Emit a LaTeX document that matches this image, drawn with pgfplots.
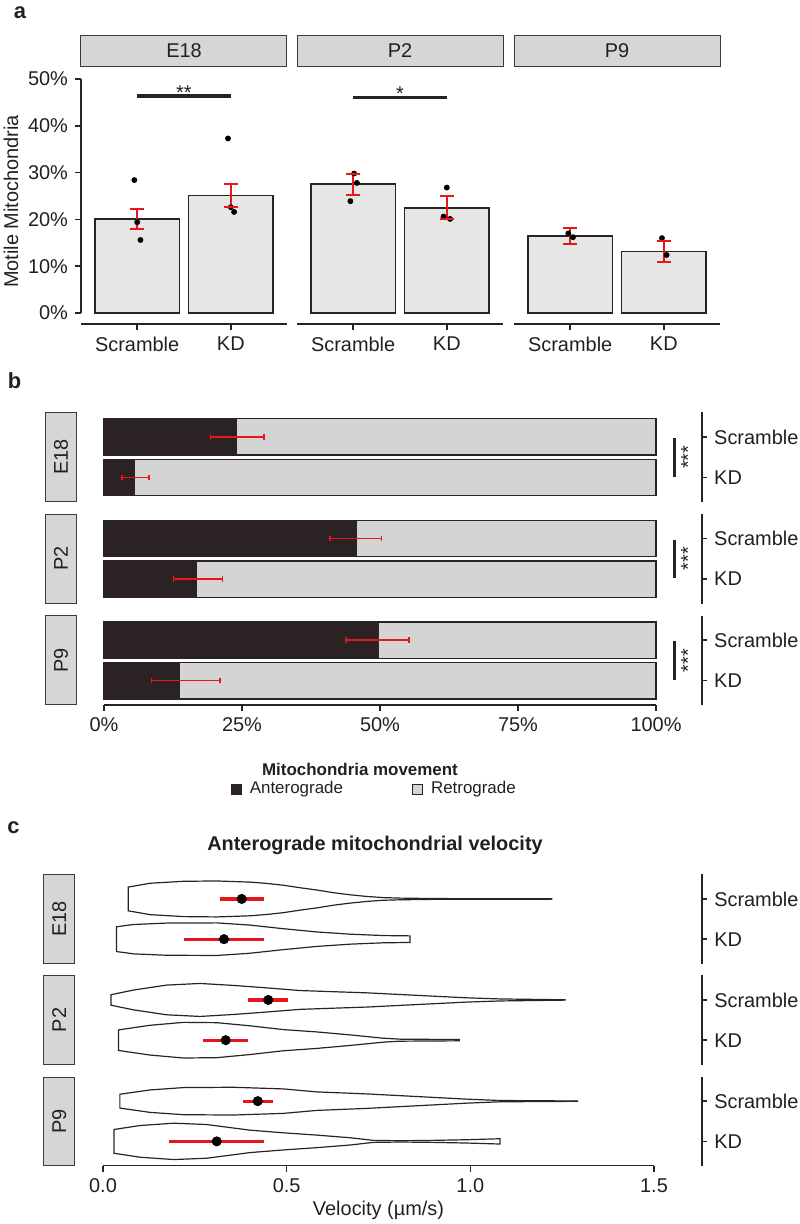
\documentclass[border=0pt]{standalone}
\usepackage{pgfplots}
\pgfplotsset{compat=1.18}
\usepackage{pgfplotstable}
\usepackage{graphicx}
\usepackage{fontspec}
\setmainfont{Liberation Sans}

\definecolor{dk}{HTML}{2B2323}
\definecolor{txt}{HTML}{231F20}
\definecolor{barl}{HTML}{E6E6E6}
\definecolor{ret}{HTML}{D4D4D4}
\definecolor{stripf}{HTML}{D6D6D6}
\definecolor{stripd}{HTML}{3A3A3A}
\definecolor{rd}{HTML}{E8141E}

\newcommand{\fs}{\fontsize{10}{12}\selectfont}

\tikzset{strip/.style={draw=stripd, fill=stripf, line width=0.5bp, inner sep=0pt, text=txt, font=\fs}}
\pgfplotsset{
  base/.style={scale only axis, clip=false, anchor=south west,
    font=\fs, ticklabel style={text=txt},
    axis line style={dk, line width=0.8bp},
    tick style={dk, line width=0.8bp}, major tick length=3bp},
  vio/.style={dk, line width=0.6bp, forget plot},
  ci/.style={rd, line width=1.65bp, forget plot},
  mn/.style={only marks, mark=*, mark size=2.3bp, black, forget plot},
  ebb/.style={rd, line width=0.8bp, mark=|, mark size=1.4bp, forget plot},
  eba/.style={rd, line width=1bp, mark=-, mark size=3.5bp},
}

% violin half-width profiles (velocity, half-width in category units)
\pgfplotstableread{
v h
0.069 0
0.069 0.296
0.128 0.39
0.219 0.439
0.310 0.447
0.400 0.419
0.446 0.386
0.491 0.341
0.536 0.279
0.582 0.222
0.627 0.156
0.673 0.103
0.718 0.062
0.763 0.033
0.809 0.021
0.899 0.010
0.990 0.007
1.222 0.005
1.222 0
}\vEs
\pgfplotstableread{
v h
0.037 0
0.037 0.308
0.083 0.365
0.173 0.400
0.310 0.405
0.400 0.350
0.491 0.260
0.582 0.180
0.673 0.124
0.763 0.090
0.836 0.082
0.836 0
}\vEk
\pgfplotstableread{
v h
0.022 0
0.022 0.131
0.083 0.246
0.173 0.369
0.264 0.410
0.355 0.361
0.446 0.300
0.536 0.234
0.627 0.205
0.718 0.177
0.809 0.135
0.899 0.094
0.990 0.053
1.081 0.025
1.258 0.004
1.258 0
}\vPs
\pgfplotstableread{
v h
0.042 0
0.042 0.255
0.128 0.370
0.219 0.443
0.310 0.435
0.400 0.357
0.491 0.263
0.582 0.205
0.673 0.131
0.763 0.049
0.809 0.025
0.970 0.016
0.970 0
}\vPk
\pgfplotstableread{
v h
0.046 0
0.046 0.172
0.128 0.279
0.219 0.337
0.355 0.345
0.491 0.304
0.582 0.230
0.718 0.180
0.854 0.115
0.990 0.050
1.081 0.016
1.292 0.004
1.292 0
}\vNs
\pgfplotstableread{
v h
0.030 0
0.030 0.296
0.101 0.394
0.192 0.452
0.282 0.419
0.400 0.279
0.491 0.213
0.582 0.156
0.673 0.090
0.736 0.025
0.809 0.016
0.899 0.025
0.990 0.041
1.081 0.066
1.081 0
}\vNk

\begin{document}
\begin{tikzpicture}
\useasboundingbox (0,0) rectangle (400bp,-612bp);

% ---------------- panel labels & free text
\node[font=\fontsize{11}{13}\selectfont\bfseries, text=txt] at (10bp,-6.25bp) {a};
\node[font=\fontsize{11}{13}\selectfont\bfseries, text=txt] at (7.25bp,-190.5bp) {b};
\node[font=\fontsize{11}{13}\selectfont\bfseries, text=txt] at (6.75bp,-413.75bp) {c};
\node[rotate=90, font=\fs, text=txt] at (5.5bp,-100.75bp) {Motile Mitochondria};
\node[font=\fontsize{8.5}{10}\selectfont\bfseries, text=txt] at (180bp,-384.5bp) {Mitochondria movement};
\node[font=\fs\bfseries, text=txt] at (187.5bp,-422.5bp) {Anterograde mitochondrial velocity};

% ================= PANEL A =================
\begin{axis}[base, at={(40.5bp,-162bp)}, width=103bp, height=122.5bp,
  xmin=-0.6, xmax=1.6, ymin=-2.35, ymax=50,
  axis x line*=bottom, axis y line*=left, y axis line style={draw=none},
  tick align=outside,
  xtick={0,1}, xticklabels={Scramble,KD},
  ytick={0,10,20,30,40,50}, yticklabels={0\%,10\%,20\%,30\%,40\%,50\%}]
\draw[dk, line width=0.8bp] (axis cs:-0.6,0) -- (axis cs:-0.6,50);
\addplot[ybar, bar width=0.9, bar shift=0pt, fill=barl, draw=dk, line width=0.8bp] coordinates {(0,20.1) (1,25.1)};
\addplot[only marks, mark=*, mark size=1.25bp, black] coordinates {(-0.03,28.4) (0,19.4) (0.035,15.6) (0.97,37.3) (1.0,22.6) (1.035,21.6)};
\addplot[eba] coordinates {(0,18.0) (0,22.2)};
\addplot[eba] coordinates {(1,22.7) (1,27.5)};
\draw[dk, line width=1.65bp] (axis cs:0,46.35) -- (axis cs:1,46.35);
\node[anchor=base, inner sep=0pt, text=txt] at (axis cs:0.5,45.6) {**};
\node[strip, minimum width=103bp, minimum height=15.3bp, anchor=south] at ([yshift=6.15bp]rel axis cs:0.5,1) {E18};
\end{axis}

\begin{axis}[base, at={(148.5bp,-162bp)}, width=103bp, height=122.5bp,
  xmin=-0.6, xmax=1.6, ymin=-2.35, ymax=50,
  axis x line*=bottom, axis y line=none,
  tick align=outside,
  xtick={0,1}, xticklabels={Scramble,KD}, ytick=\empty]
\addplot[ybar, bar width=0.9, bar shift=0pt, fill=barl, draw=dk, line width=0.8bp] coordinates {(0,27.6) (1,22.5)};
\addplot[only marks, mark=*, mark size=1.25bp, black] coordinates {(0.01,29.8) (0.04,27.8) (-0.03,23.9) (1.0,26.8) (0.965,20.6) (1.035,20.1)};
\addplot[eba] coordinates {(0,25.3) (0,29.7)};
\addplot[eba] coordinates {(1,20.1) (1,24.9)};
\draw[dk, line width=1.65bp] (axis cs:0,46.1) -- (axis cs:1,46.1);
\node[anchor=base, inner sep=0pt, text=txt] at (axis cs:0.5,45.35) {*};
\node[strip, minimum width=103bp, minimum height=15.3bp, anchor=south] at ([yshift=6.15bp]rel axis cs:0.5,1) {P2};
\end{axis}

\begin{axis}[base, at={(257bp,-162bp)}, width=103bp, height=122.5bp,
  xmin=-0.6, xmax=1.6, ymin=-2.35, ymax=50,
  axis x line*=bottom, axis y line=none,
  tick align=outside,
  xtick={0,1}, xticklabels={Scramble,KD}, ytick=\empty]
\addplot[ybar, bar width=0.9, bar shift=0pt, fill=barl, draw=dk, line width=0.8bp] coordinates {(0,16.5) (1,13.1)};
\addplot[only marks, mark=*, mark size=1.25bp, black] coordinates {(-0.02,17.0) (0.03,16.2) (0.98,16.0) (1.03,12.4)};
\addplot[eba] coordinates {(0,14.7) (0,18.2)};
\addplot[eba] coordinates {(1,11.0) (1,15.4)};
\node[strip, minimum width=103bp, minimum height=15.3bp, anchor=south] at ([yshift=6.15bp]rel axis cs:0.5,1) {P9};
\end{axis}

% ================= PANEL B =================
% E18
\begin{axis}[base, at={(52bp,-250.85bp)}, width=276bp, height=44.5bp,
  xmin=0, xmax=100, ymin=0.4, ymax=2.6, hide axis]
\addplot[xbar, bar width=0.9, bar shift=0pt, fill=ret, draw=dk, line width=0.7bp] coordinates {(100,2) (100,1)};
\addplot[xbar, bar width=0.9, bar shift=0pt, fill=dk, draw=dk, line width=0.7bp] coordinates {(24.0,2) (5.4,1)};
\addplot[ebb] coordinates {(19.3,2) (29.0,2)};
\addplot[ebb] coordinates {(3.3,1) (8.2,1)};
\draw[dk, line width=1.5bp] (axis cs:103.3,1.968) -- (axis cs:103.3,1.017);
\node[rotate=90, text=txt, inner sep=0pt] at (axis cs:105.8,1.5) {***};
\node[strip, minimum width=15.5bp, minimum height=44.5bp, anchor=east] at ([xshift=-13.5bp]rel axis cs:0,0.5) {\rotatebox{90}{E18}};
\draw[dk, line width=0.8bp] (axis cs:108.33,0.39) -- (axis cs:108.33,2.61);
\draw[dk, line width=0.8bp] (axis cs:108.33,2) -- (axis cs:109.24,2) node[anchor=west, inner sep=0pt, xshift=3.2bp, text=txt] {Scramble};
\draw[dk, line width=0.8bp] (axis cs:108.33,1) -- (axis cs:109.24,1) node[anchor=west, inner sep=0pt, xshift=3.2bp, text=txt] {KD};
\end{axis}
% P2
\begin{axis}[base, at={(52bp,-301.65bp)}, width=276bp, height=44.5bp,
  xmin=0, xmax=100, ymin=0.4, ymax=2.6, hide axis]
\addplot[xbar, bar width=0.9, bar shift=0pt, fill=ret, draw=dk, line width=0.7bp] coordinates {(100,2) (100,1)};
\addplot[xbar, bar width=0.9, bar shift=0pt, fill=dk, draw=dk, line width=0.7bp] coordinates {(45.7,2) (16.8,1)};
\addplot[ebb] coordinates {(40.9,2) (50.3,2)};
\addplot[ebb] coordinates {(12.6,1) (21.5,1)};
\draw[dk, line width=1.5bp] (axis cs:103.3,1.968) -- (axis cs:103.3,1.017);
\node[rotate=90, text=txt, inner sep=0pt] at (axis cs:105.8,1.5) {***};
\node[strip, minimum width=15.5bp, minimum height=44.5bp, anchor=east] at ([xshift=-13.5bp]rel axis cs:0,0.5) {\rotatebox{90}{P2}};
\draw[dk, line width=0.8bp] (axis cs:108.33,0.39) -- (axis cs:108.33,2.61);
\draw[dk, line width=0.8bp] (axis cs:108.33,2) -- (axis cs:109.24,2) node[anchor=west, inner sep=0pt, xshift=3.2bp, text=txt] {Scramble};
\draw[dk, line width=0.8bp] (axis cs:108.33,1) -- (axis cs:109.24,1) node[anchor=west, inner sep=0pt, xshift=3.2bp, text=txt] {KD};
\end{axis}
% P9
\begin{axis}[base, at={(52bp,-352.45bp)}, width=276bp, height=44.5bp,
  xmin=0, xmax=100, ymin=0.4, ymax=2.6,
  axis x line*=bottom, axis y line=none, tick align=outside,
  xtick={0,25,50,75,100}, xticklabels={0\%,25\%,50\%,75\%,100\%}, ytick=\empty,
  legend style={at={(axis description cs:0.229,-0.945)}, anchor=west, draw=none, fill=none,
    legend columns=2, font=\fontsize{8.5}{10}\selectfont, inner sep=0pt,
    nodes={inner sep=1.5bp, text=txt},
    /tikz/every odd column/.append style={column sep=2.5bp},
    /tikz/every even column/.append style={column sep=33bp}},
  legend image code/.code={\draw[#1] (0bp,-2.5bp) rectangle (5bp,2.5bp);}]
\addplot[xbar, bar width=0.9, bar shift=0pt, fill=ret, draw=dk, line width=0.7bp, forget plot] coordinates {(100,2) (100,1)};
\addplot[xbar, bar width=0.9, bar shift=0pt, fill=dk, draw=dk, line width=0.7bp, forget plot] coordinates {(49.7,2) (13.7,1)};
\addplot[ebb] coordinates {(43.8,2) (55.3,2)};
\addplot[ebb] coordinates {(8.6,1) (21.0,1)};
\draw[dk, line width=1.5bp] (axis cs:103.3,1.968) -- (axis cs:103.3,1.017);
\node[rotate=90, text=txt, inner sep=0pt] at (axis cs:105.8,1.5) {***};
\node[strip, minimum width=15.5bp, minimum height=44.5bp, anchor=east] at ([xshift=-13.5bp]rel axis cs:0,0.5) {\rotatebox{90}{P9}};
\draw[dk, line width=0.8bp] (axis cs:108.33,0.39) -- (axis cs:108.33,2.61);
\draw[dk, line width=0.8bp] (axis cs:108.33,2) -- (axis cs:109.24,2) node[anchor=west, inner sep=0pt, xshift=3.2bp, text=txt] {Scramble};
\draw[dk, line width=0.8bp] (axis cs:108.33,1) -- (axis cs:109.24,1) node[anchor=west, inner sep=0pt, xshift=3.2bp, text=txt] {KD};
\addlegendimage{fill=dk, draw=dk, line width=0.5bp}
\addlegendentry{Anterograde}
\addlegendimage{fill=ret, draw=dk, line width=0.5bp}
\addlegendentry{Retrograde}
\end{axis}

% ================= PANEL C =================
% E18
\begin{axis}[base, at={(51.5bp,-481.65bp)}, width=275.5bp, height=44.25bp,
  xmin=0, xmax=1.5, ymin=0.4, ymax=2.6, hide axis]
\addplot[vio] table[x=v, y expr={2+\thisrow{h}}] {\vEs};
\addplot[vio] table[x=v, y expr={2-\thisrow{h}}] {\vEs};
\addplot[vio] table[x=v, y expr={1+\thisrow{h}}] {\vEk};
\addplot[vio] table[x=v, y expr={1-\thisrow{h}}] {\vEk};
\addplot[ci] coordinates {(0.3185,2) (0.4383,2)};
\addplot[ci] coordinates {(0.2197,1) (0.4383,1)};
\addplot[mn] coordinates {(0.3776,2) (0.3294,1)};
\node[strip, minimum width=15.35bp, minimum height=44.25bp, anchor=east] at ([xshift=-14bp]rel axis cs:0,0.5) {\rotatebox{90}{E18}};
\draw[dk, line width=0.8bp] (axis cs:1.6308,0.39) -- (axis cs:1.6308,2.61);
\draw[dk, line width=0.8bp] (axis cs:1.6308,2) -- (axis cs:1.6444,2) node[anchor=west, inner sep=0pt, xshift=3.2bp, text=txt] {Scramble};
\draw[dk, line width=0.8bp] (axis cs:1.6308,1) -- (axis cs:1.6444,1) node[anchor=west, inner sep=0pt, xshift=3.2bp, text=txt] {KD};
\end{axis}
% P2
\begin{axis}[base, at={(51.5bp,-532.15bp)}, width=275.5bp, height=44.25bp,
  xmin=0, xmax=1.5, ymin=0.4, ymax=2.6, hide axis]
\addplot[vio] table[x=v, y expr={2+\thisrow{h}}] {\vPs};
\addplot[vio] table[x=v, y expr={2-\thisrow{h}}] {\vPs};
\addplot[vio] table[x=v, y expr={1+\thisrow{h}}] {\vPk};
\addplot[vio] table[x=v, y expr={1-\thisrow{h}}] {\vPk};
\addplot[ci] coordinates {(0.3956,2) (0.5037,2)};
\addplot[ci] coordinates {(0.2731,1) (0.3948,1)};
\addplot[mn] coordinates {(0.450,2) (0.334,1)};
\node[strip, minimum width=15.35bp, minimum height=44.25bp, anchor=east] at ([xshift=-14bp]rel axis cs:0,0.5) {\rotatebox{90}{P2}};
\draw[dk, line width=0.8bp] (axis cs:1.6308,0.39) -- (axis cs:1.6308,2.61);
\draw[dk, line width=0.8bp] (axis cs:1.6308,2) -- (axis cs:1.6444,2) node[anchor=west, inner sep=0pt, xshift=3.2bp, text=txt] {Scramble};
\draw[dk, line width=0.8bp] (axis cs:1.6308,1) -- (axis cs:1.6444,1) node[anchor=west, inner sep=0pt, xshift=3.2bp, text=txt] {KD};
\end{axis}
% P9
\begin{axis}[base, at={(51.5bp,-582.75bp)}, width=275.5bp, height=44.25bp,
  xmin=0, xmax=1.5, ymin=0.4, ymax=2.6,
  axis x line*=bottom, axis y line=none, tick align=outside,
  xtick={0,0.5,1,1.5}, xticklabels={0.0,0.5,1.0,1.5}, ytick=\empty,
  xlabel={Velocity (µm/s)},
  xlabel style={at={(axis description cs:0.5,0)}, anchor=center, yshift=-22.6bp, text=txt}]
\addplot[vio] table[x=v, y expr={2+\thisrow{h}}] {\vNs};
\addplot[vio] table[x=v, y expr={2-\thisrow{h}}] {\vNs};
\addplot[vio] table[x=v, y expr={1+\thisrow{h}}] {\vNk};
\addplot[vio] table[x=v, y expr={1-\thisrow{h}}] {\vNk};
\addplot[ci] coordinates {(0.3812,2) (0.4628,2)};
\addplot[ci] coordinates {(0.1805,1) (0.4383,1)};
\addplot[mn] coordinates {(0.4212,2) (0.3096,1)};
\node[strip, minimum width=15.35bp, minimum height=44.25bp, anchor=east] at ([xshift=-14bp]rel axis cs:0,0.5) {\rotatebox{90}{P9}};
\draw[dk, line width=0.8bp] (axis cs:1.6308,0.39) -- (axis cs:1.6308,2.61);
\draw[dk, line width=0.8bp] (axis cs:1.6308,2) -- (axis cs:1.6444,2) node[anchor=west, inner sep=0pt, xshift=3.2bp, text=txt] {Scramble};
\draw[dk, line width=0.8bp] (axis cs:1.6308,1) -- (axis cs:1.6444,1) node[anchor=west, inner sep=0pt, xshift=3.2bp, text=txt] {KD};
\end{axis}
\end{tikzpicture}
\end{document}
